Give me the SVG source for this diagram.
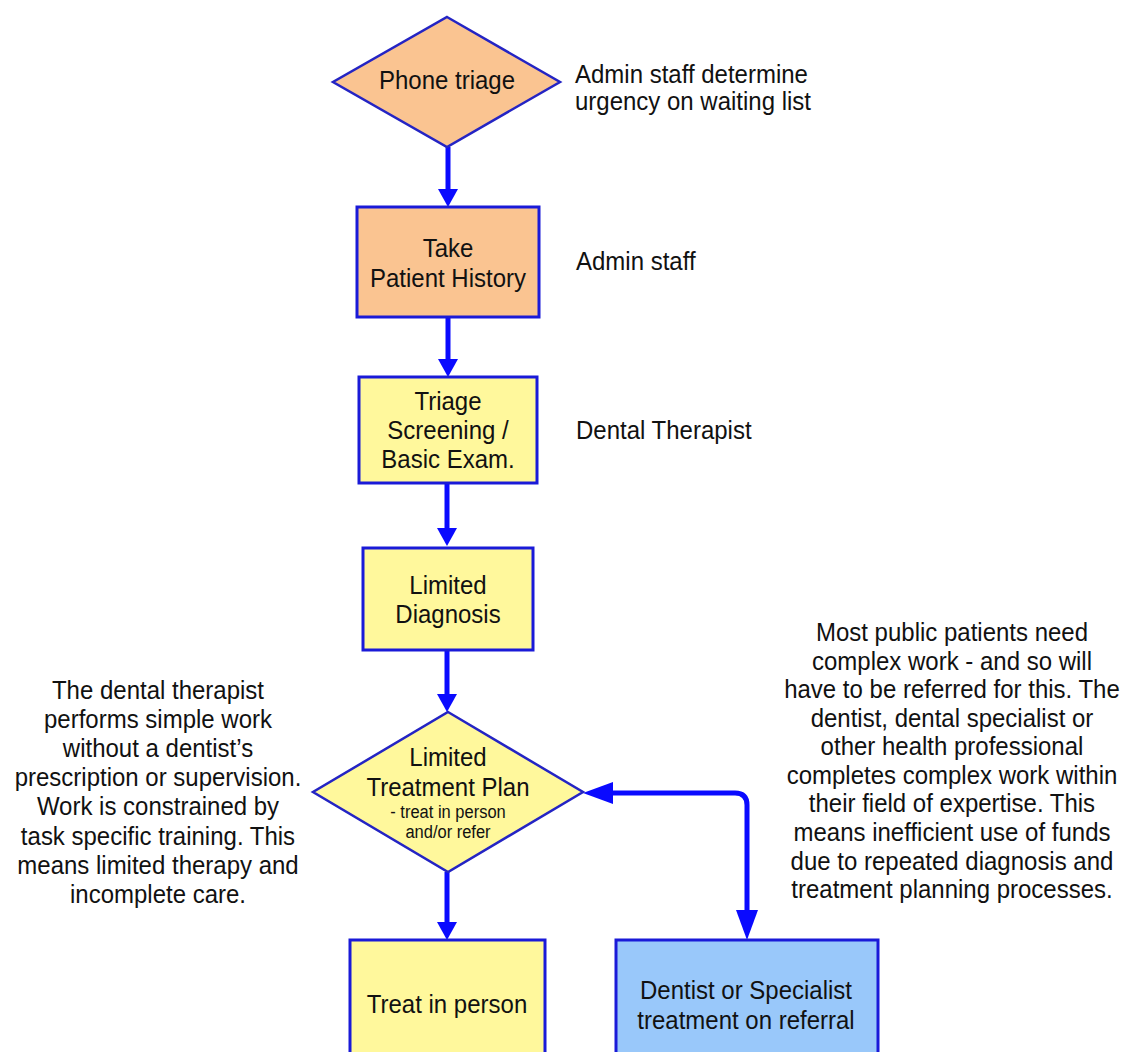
<svg xmlns="http://www.w3.org/2000/svg" width="1129" height="1052" viewBox="0 0 1129 1052">
  <defs>
    <style>
      text { font-family: "Liberation Sans", Arial, sans-serif; font-size: 24px; fill: #111; transform-box: fill-box; transform-origin: center; transform: scaleY(1.1); }
      .c { text-anchor: middle; }
      .small { font-size: 16.5px; }
      .box { stroke: #1a1ad8; stroke-width: 3; }
      .dia { stroke: #2424c4; stroke-width: 2.5; }
      .orange { fill: #fac491; }
      .yellow { fill: #fff89c; }
      .blue { fill: #99c8fa; }
      .conn { fill: none; stroke: #0a0aff; stroke-width: 5; }
    </style>
    <marker id="arr" markerUnits="userSpaceOnUse" viewBox="0 0 18 20" refX="8" refY="10" markerWidth="18" markerHeight="20" orient="auto-start-reverse">
      <path d="M0,0 L18,10 L0,20 Z" fill="#0a0aff"/>
    </marker>
    <marker id="arrL" markerUnits="userSpaceOnUse" viewBox="0 0 30 22" refX="12" refY="11" markerWidth="30" markerHeight="22" orient="auto-start-reverse">
      <path d="M0,0 L30,11 L0,22 Z" fill="#0a0aff"/>
    </marker>
  </defs>
  <rect width="1129" height="1052" fill="#ffffff"/>

  <g id="connectors">
    <path class="conn" d="M448,147 L448,197" marker-end="url(#arr)"/>
    <path class="conn" d="M448,317 L448,367" marker-end="url(#arr)"/>
    <path class="conn" d="M447,483 L447,536" marker-end="url(#arr)"/>
    <path class="conn" d="M447,650 L447,702" marker-end="url(#arr)"/>
    <path class="conn" d="M447,872 L447,930" marker-end="url(#arr)"/>
    <path class="conn" d="M601,793 L735,793 Q747,793 747,805 L747,922" marker-start="url(#arrL)" marker-end="url(#arrL)"/>
  </g>

  <g id="phone-triage">
    <polygon class="dia orange" points="447,17 560,82 447,147 333,82"/>
    <text class="c" x="447" y="88">Phone triage</text>
  </g>
  <g id="note-phone">
    <text x="575" y="82">Admin staff determine</text>
    <text x="575" y="109">urgency on waiting list</text>
  </g>

  <g id="take-history">
    <rect class="box orange" x="357" y="207" width="182" height="110"/>
    <text class="c" x="448" y="256">Take</text>
    <text class="c" x="448" y="286">Patient History</text>
  </g>
  <g id="note-history">
    <text x="576" y="269">Admin staff</text>
  </g>

  <g id="triage-screening">
    <rect class="box yellow" x="359" y="377" width="178" height="106"/>
    <text class="c" x="448" y="409">Triage</text>
    <text class="c" x="448" y="438">Screening /</text>
    <text class="c" x="448" y="467">Basic Exam.</text>
  </g>
  <g id="note-triage">
    <text x="576" y="438">Dental Therapist</text>
  </g>

  <g id="limited-diagnosis">
    <rect class="box yellow" x="363" y="548" width="170" height="102"/>
    <text class="c" x="448" y="593">Limited</text>
    <text class="c" x="448" y="622">Diagnosis</text>
  </g>

  <g id="treatment-plan">
    <polygon class="dia yellow" points="448,712 583,792 448,872 313,792"/>
    <text class="c" x="448" y="765">Limited</text>
    <text class="c" x="448" y="795">Treatment Plan</text>
    <text class="c small" x="448" y="817">- treat in person</text>
    <text class="c small" x="448" y="837">and/or refer</text>
  </g>

  <g id="note-left">
    <text class="c" x="158" y="698">The dental therapist</text>
    <text class="c" x="158" y="727">performs simple work</text>
    <text class="c" x="158" y="756">without a dentist’s</text>
    <text class="c" x="158" y="785">prescription or supervision.</text>
    <text class="c" x="158" y="814">Work is constrained by</text>
    <text class="c" x="158" y="844">task specific training. This</text>
    <text class="c" x="158" y="873">means limited therapy and</text>
    <text class="c" x="158" y="902">incomplete care.</text>
  </g>

  <g id="note-right">
    <text class="c" x="952" y="640">Most public patients need</text>
    <text class="c" x="952" y="669">complex work - and so will</text>
    <text class="c" x="952" y="697">have to be referred for this. The</text>
    <text class="c" x="952" y="726">dentist, dental specialist or</text>
    <text class="c" x="952" y="754">other health professional</text>
    <text class="c" x="952" y="783">completes complex work within</text>
    <text class="c" x="952" y="811">their field of expertise. This</text>
    <text class="c" x="952" y="840">means inefficient use of funds</text>
    <text class="c" x="952" y="869">due to repeated diagnosis and</text>
    <text class="c" x="952" y="897">treatment planning processes.</text>
  </g>

  <g id="treat-in-person">
    <rect class="box yellow" x="350" y="940" width="195" height="130"/>
    <text class="c" x="447" y="1012">Treat in person</text>
  </g>

  <g id="specialist-referral">
    <rect class="box blue" x="616" y="940" width="262" height="130"/>
    <text class="c" x="746" y="998">Dentist or Specialist</text>
    <text class="c" x="746" y="1028">treatment on referral</text>
  </g>
</svg>
